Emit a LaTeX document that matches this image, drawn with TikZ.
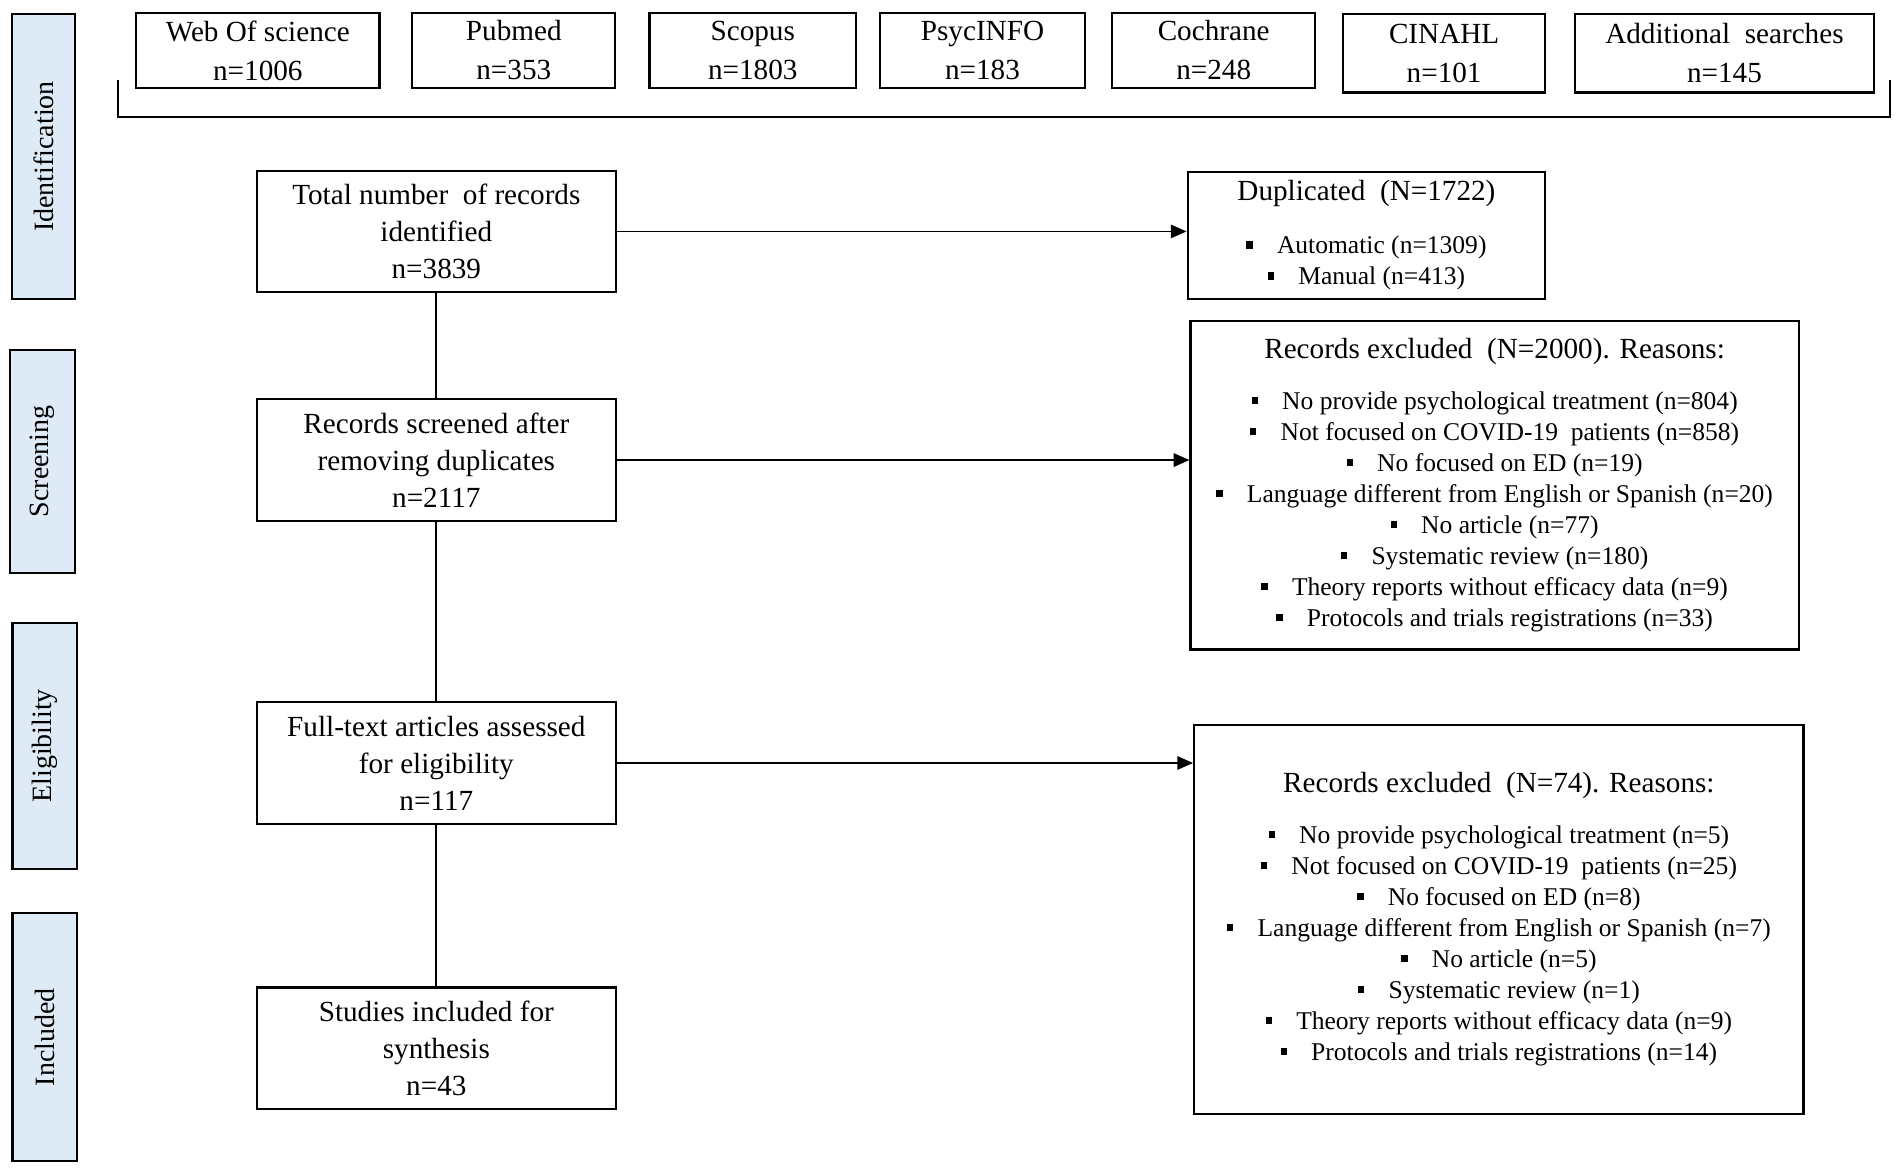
\documentclass[tikz,border=0pt]{standalone}
\usepackage{fontspec}
\setmainfont{Liberation Serif}
\usetikzlibrary{arrows.meta}
\definecolor{barblue}{RGB}{222,234,246}
\newcommand{\bsq}{\rule[0.2em]{2.6pt}{3pt}\hspace{10pt}}
\begin{document}
\begin{tikzpicture}[x=0.5pt,y=-0.5pt,
 box/.style={draw,line width=0.9pt,inner sep=0pt,align=center},
 srcbox/.style={box,minimum width=83.5pt,minimum height=31pt,font=\fontsize{12}{16}\selectfont},
 mainbox/.style={box,minimum width=147.75pt,minimum height=50pt,font=\fontsize{12}{15.25}\selectfont},
 exbox/.style={box,font=\fontsize{10.5}{12.75}\selectfont},
 phase/.style={draw,line width=0.9pt,fill=barblue,rotate=90,inner sep=0pt,font=\fontsize{11.5}{14}\selectfont},
 conn/.style={line width=0.75pt},
 arr/.style={conn,-{Triangle[length=6.5pt,width=5.5pt]}}
]
\useasboundingbox (0,0) rectangle (1564,964);

% phase bars
\node[phase,minimum width=117.25pt,minimum height=25.75pt] (pid) at (35.75,128.75) {Identification};
\node[phase,minimum width=91.65pt,minimum height=26.85pt] (psc) at (34.85,379.35) {Screening};
\node[phase,minimum width=101.3pt,minimum height=26.35pt] (pel) at (36.65,613.3) {Eligibility};
\node[phase,minimum width=101.9pt,minimum height=26.35pt] (pin) at (36.65,852.9) {Included};

% sources
\node[srcbox,minimum width=100pt] (web) at (212,41.5) {Web Of science\\n=1006};
\node[srcbox,minimum width=83.5pt] (pub) at (422.5,41.5) {Pubmed\\n=353};
\node[srcbox,minimum width=85pt] (sco) at (619,41.5) {Scopus\\n=1803};
\node[srcbox,minimum width=84.15pt] (psy) at (807.9,41.5) {PsycINFO\\n=183};
\node[srcbox,minimum width=83.5pt] (coc) at (998,41.5) {Cochrane\\n=248};
\node[srcbox,minimum width=83pt,minimum height=32.25pt] (cin) at (1187.5,43.75) {CINAHL\\n=101};
\node[srcbox,minimum width=123pt,minimum height=32.25pt] (add) at (1418,43.75) {Additional\ \ searches\\n=145};

% bracket
\coordinate (bl) at (97,66);
\coordinate (br) at (1554,66);
\draw[conn] (bl) -- ++(0,30) -| (br);

% main column
\node[mainbox] (tot) at (358.8,190.3) {Total number\ \ of records\\identified\\n=3839};
\node[mainbox] (scr) at (358.8,378.3) {Records screened after\\removing duplicates\\n=2117};
\node[mainbox] (full) at (358.8,627.4) {Full-text articles assessed\\for eligibility\\n=117};
\node[mainbox] (stu) at (358.8,862) {Studies included for\\synthesis\\n=43};

% exclusion boxes
\node[exbox,minimum width=147pt,minimum height=52pt] (dup) at (1123.6,193.6)
 {{\fontsize{12}{15}\selectfont Duplicated\ \ (N=1722)}\\[9pt]
  \bsq Automatic (n=1309)\\
  \bsq Manual (n=413)};

\node[exbox,minimum width=250pt,minimum height=135pt] (ex1) at (1229,399)
 {{\fontsize{12}{15}\selectfont Records excluded\ \ (N=2000). Reasons:}\\[8pt]
  \bsq No provide psychological treatment (n=804)\\
  \bsq Not focused on COVID-19\ \ patients (n=858)\\
  \bsq No focused on ED (n=19)\\
  \bsq Language different from English or Spanish (n=20)\\
  \bsq No article (n=77)\\
  \bsq Systematic review (n=180)\\
  \bsq Theory reports without efficacy data (n=9)\\
  \bsq Protocols and trials registrations (n=33)};

\node[exbox,minimum width=250.5pt,minimum height=160pt] (ex2) at (1232.5,756)
 {{\fontsize{12}{15}\selectfont Records excluded\ \ (N=74). Reasons:}\\[8pt]
  \bsq No provide psychological treatment (n=5)\\
  \bsq Not focused on COVID-19\ \ patients (n=25)\\
  \bsq No focused on ED (n=8)\\
  \bsq Language different from English or Spanish (n=7)\\
  \bsq No article (n=5)\\
  \bsq Systematic review (n=1)\\
  \bsq Theory reports without efficacy data (n=9)\\
  \bsq Protocols and trials registrations (n=14)};

% connectors
\draw[conn] (tot) -- (scr);
\draw[conn] (scr) -- (full);
\draw[conn] (full) -- (stu);
\draw[arr] (tot.east) -- (tot.east -| dup.west);
\draw[arr] (scr.east) -- (scr.east -| ex1.west);
\draw[arr] (full.east) -- (full.east -| ex2.west);
\end{tikzpicture}
\end{document}
